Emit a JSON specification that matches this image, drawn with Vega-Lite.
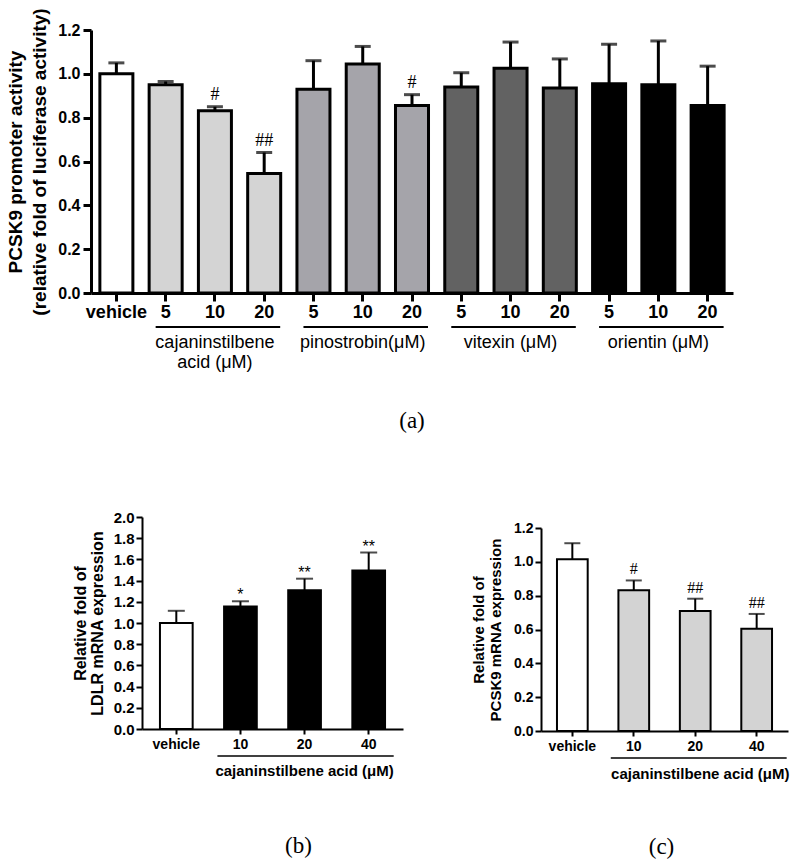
{
  "$schema": "https://vega.github.io/schema/vega-lite/v6.json",
  "background": "white",
  "padding": {"left": 6, "top": 7, "right": 0, "bottom": 0},
  "config": {
    "view": {"stroke": null},
    "font": "Liberation Sans",
    "axis": {"grid": false, "domainColor": "black", "tickColor": "black", "labelColor": "black", "titleColor": "black", "labelFontWeight": "bold", "titleFontWeight": "bold", "labelFont": "Liberation Sans", "titleFont": "Liberation Sans", "labelOverlap": false}
  },
  "spacing": 77,
  "resolve": {"scale": {"fill": "independent"}},
  "vconcat": [
    {
      "width": 708,
      "height": 263,
      "title": {"text": "(a)", "orient": "bottom", "font": "Liberation Serif", "fontSize": 23, "fontWeight": "normal", "color": "black", "offset": 38, "dx": 33},
      "layer": [
        {
          "data": {"name": "a"},
          "mark": {"type": "bar", "stroke": "black", "strokeWidth": 3},
          "encoding": {
            "x": {"field": "id", "type": "nominal", "sort": null,
              "scale": {"domain": ["vehicle", "CSA 5", "CSA 10", "CSA 20", "PIN 5", "PIN 10", "PIN 20", "VIT 5", "VIT 10", "VIT 20", "ORI 5", "ORI 10", "ORI 20"], "range": [66, 708], "paddingInner": 0.33, "paddingOuter": 0.18},
              "axis": {"title": null, "labelAngle": 0, "labelFontSize": 18, "tickSize": 8, "tickWidth": 3, "domainWidth": 3, "labelPadding": 2,
                "labelExpr": "datum.label == 'vehicle' ? 'vehicle' : split(datum.label, ' ')[1]"}},
            "y": {"field": "mean", "type": "quantitative",
              "scale": {"domain": [0, 1.2], "nice": false},
              "axis": {"values": [0, 0.2, 0.4, 0.6, 0.8, 1.0, 1.2], "tickCount": 20, "format": ".1f", "offset": -66, "labelFontSize": 16, "tickSize": 8, "tickWidth": 3, "domainWidth": 3, "labelPadding": 3, "labelOverlap": false,
                "title": ["PCSK9 promoter activity", "(relative fold of luciferase activity)"], "titleFontSize": 19, "titleLineHeight": 24, "titlePadding": 8}},
            "fill": {"field": "grp", "type": "nominal", "legend": null,
              "scale": {"domain": ["vehicle", "cajaninstilbene acid", "pinostrobin", "vitexin", "orientin"], "range": ["#ffffff", "#d4d4d4", "#a5a4aa", "#626262", "#000000"]}}
          }
        },
        {
          "data": {"name": "a"},
          "mark": {"type": "rule", "strokeWidth": 3, "color": "black"},
          "encoding": {
            "x": {"field": "id", "type": "nominal", "sort": null},
            "y": {"field": "mean", "type": "quantitative"},
            "y2": {"field": "hi"}
          }
        },
        {
          "data": {"name": "a"},
          "mark": {"type": "tick", "thickness": 3, "size": 16, "color": "black"},
          "encoding": {
            "x": {"field": "id", "type": "nominal", "sort": null},
            "y": {"field": "hi", "type": "quantitative"}
          }
        },
        {
          "data": {"name": "a"},
          "mark": {"type": "text", "font": "Liberation Serif", "fontSize": 18, "baseline": "bottom", "dy": -3, "color": "black"},
          "encoding": {
            "x": {"field": "id", "type": "nominal", "sort": null},
            "y": {"field": "hi", "type": "quantitative"},
            "text": {"field": "sig"}
          }
        },
        {
          "data": {"name": "agroups"},
          "mark": {"type": "rule", "strokeWidth": 2, "color": "black", "xOffset": -10, "x2Offset": 16, "clip": false},
          "encoding": {
            "x": {"field": "first", "type": "nominal"},
            "x2": {"field": "last"},
            "y": {"value": 297}
          }
        },
        {
          "data": {"name": "agroups"},
          "mark": {"type": "text", "fontSize": 18, "baseline": "top", "align": "center", "lineBreak": "\n", "lineHeight": 20, "color": "black", "clip": false},
          "encoding": {
            "x": {"field": "mid", "type": "nominal"},
            "y": {"value": 304},
            "text": {"field": "label"}
          }
        }
      ]
    },
    {
      "spacing": 46,
      "resolve": {"scale": {"fill": "independent"}},
      "hconcat": [
        {
          "width": 1,
          "height": 1,
          "data": {"values": [{"k": 0}]},
          "mark": {"type": "rect", "opacity": 0},
          "encoding": {}
        },
        {
          "spacing": 68,
          "resolve": {"scale": {"fill": "independent"}},
          "hconcat": [
            {
              "width": 261,
              "height": 212,
              "title": {"text": "(b)", "orient": "bottom", "font": "Liberation Serif", "fontSize": 23, "fontWeight": "normal", "color": "black", "offset": 56, "dx": 26},
              "layer": [
                {
                  "data": {"name": "b"},
                  "mark": {"type": "bar", "stroke": "black", "strokeWidth": 2},
                  "encoding": {
                    "x": {"field": "id", "type": "nominal", "sort": null,
                      "scale": {"domain": ["vehicle", "10", "20", "40"], "paddingInner": 0.49, "paddingOuter": 0.28},
                      "axis": {"title": null, "labelAngle": 0, "labelFontSize": 14, "tickSize": 5, "tickWidth": 2, "domainWidth": 2, "labelPadding": 3}},
                    "y": {"field": "mean", "type": "quantitative",
                      "scale": {"domain": [0, 2.0], "nice": false},
                      "axis": {"values": [0, 0.2, 0.4, 0.6, 0.8, 1.0, 1.2, 1.4, 1.6, 1.8, 2.0], "tickCount": 20, "format": ".1f", "labelFontSize": 15, "tickSize": 6, "tickWidth": 2, "domainWidth": 2, "labelPadding": 2, "labelOverlap": false,
                        "title": ["Relative fold of", "LDLR mRNA expression"], "titleFontSize": 16, "titleLineHeight": 17, "titlePadding": 8}},
                    "fill": {"field": "grp", "type": "nominal", "legend": null,
                      "scale": {"domain": ["vehicle", "cajaninstilbene acid"], "range": ["#ffffff", "#000000"]}}
                  }
                },
                {
                  "data": {"name": "b"},
                  "mark": {"type": "rule", "strokeWidth": 2, "color": "black"},
                  "encoding": {
                    "x": {"field": "id", "type": "nominal", "sort": null},
                    "y": {"field": "mean", "type": "quantitative"},
                    "y2": {"field": "hi"}
                  }
                },
                {
                  "data": {"name": "b"},
                  "mark": {"type": "tick", "thickness": 2, "size": 17, "color": "black"},
                  "encoding": {
                    "x": {"field": "id", "type": "nominal", "sort": null},
                    "y": {"field": "hi", "type": "quantitative"}
                  }
                },
                {
                  "data": {"name": "b"},
                  "mark": {"type": "text", "fontSize": 16, "baseline": "bottom", "dy": 2, "color": "black"},
                  "encoding": {
                    "x": {"field": "id", "type": "nominal", "sort": null},
                    "y": {"field": "hi", "type": "quantitative"},
                    "text": {"field": "sig"}
                  }
                },
                {
                  "data": {"name": "bcgroup"},
                  "mark": {"type": "rule", "strokeWidth": 1.5, "color": "black", "xOffset": -23, "x2Offset": 25, "clip": false},
                  "encoding": {
                    "x": {"field": "first", "type": "nominal"},
                    "x2": {"field": "last"},
                    "y": {"value": 239}
                  }
                },
                {
                  "data": {"name": "bcgroup"},
                  "mark": {"type": "text", "fontSize": 15, "fontWeight": "bold", "baseline": "middle", "align": "center", "color": "black", "clip": false},
                  "encoding": {
                    "x": {"field": "mid", "type": "nominal"},
                    "y": {"value": 254},
                    "text": {"field": "label"}
                  }
                }
              ]
            },
            {
              "width": 247,
              "height": 214,
              "title": {"text": "(c)", "orient": "bottom", "font": "Liberation Serif", "fontSize": 23, "fontWeight": "normal", "color": "black", "offset": 54, "dx": -3},
              "layer": [
                {
                  "data": {"name": "c"},
                  "mark": {"type": "bar", "stroke": "black", "strokeWidth": 2},
                  "encoding": {
                    "x": {"field": "id", "type": "nominal", "sort": null,
                      "scale": {"domain": ["vehicle", "10", "20", "40"], "paddingInner": 0.5, "paddingOuter": 0.26},
                      "axis": {"title": null, "labelAngle": 0, "labelFontSize": 14, "tickSize": 5, "tickWidth": 2, "domainWidth": 2, "labelPadding": 3}},
                    "y": {"field": "mean", "type": "quantitative",
                      "scale": {"domain": [0, 1.2], "nice": false, "range": [214, 11]},
                      "axis": {"values": [0, 0.2, 0.4, 0.6, 0.8, 1.0, 1.2], "tickCount": 20, "format": ".1f", "labelFontSize": 14, "tickSize": 6, "tickWidth": 2, "domainWidth": 2, "labelPadding": 2, "labelOverlap": false,
                        "title": ["Relative fold of", "PCSK9 mRNA expression"], "titleFontSize": 15, "titleLineHeight": 17, "titlePadding": 10}},
                    "fill": {"field": "grp", "type": "nominal", "legend": null,
                      "scale": {"domain": ["vehicle", "cajaninstilbene acid"], "range": ["#ffffff", "#d3d3d3"]}}
                  }
                },
                {
                  "data": {"name": "c"},
                  "mark": {"type": "rule", "strokeWidth": 2, "color": "black"},
                  "encoding": {
                    "x": {"field": "id", "type": "nominal", "sort": null},
                    "y": {"field": "mean", "type": "quantitative"},
                    "y2": {"field": "hi"}
                  }
                },
                {
                  "data": {"name": "c"},
                  "mark": {"type": "tick", "thickness": 2, "size": 16, "color": "black"},
                  "encoding": {
                    "x": {"field": "id", "type": "nominal", "sort": null},
                    "y": {"field": "hi", "type": "quantitative"}
                  }
                },
                {
                  "data": {"name": "c"},
                  "mark": {"type": "text", "font": "Liberation Serif", "fontSize": 16, "baseline": "bottom", "dy": -3, "color": "black"},
                  "encoding": {
                    "x": {"field": "id", "type": "nominal", "sort": null},
                    "y": {"field": "hi", "type": "quantitative"},
                    "text": {"field": "sig"}
                  }
                },
                {
                  "data": {"name": "bcgroup"},
                  "mark": {"type": "rule", "strokeWidth": 1.5, "color": "black", "xOffset": -23, "x2Offset": 30, "clip": false},
                  "encoding": {
                    "x": {"field": "first", "type": "nominal"},
                    "x2": {"field": "last"},
                    "y": {"value": 241}
                  }
                },
                {
                  "data": {"name": "bcgroup"},
                  "mark": {"type": "text", "fontSize": 15, "fontWeight": "bold", "baseline": "middle", "align": "center", "dx": 5, "color": "black", "clip": false},
                  "encoding": {
                    "x": {"field": "mid", "type": "nominal"},
                    "y": {"value": 257},
                    "text": {"field": "label"}
                  }
                }
              ]
            }
          ]
        }
      ]
    }
  ],
  "datasets": {
    "a": [
      {"id": "vehicle", "grp": "vehicle", "mean": 1.0, "hi": 1.05, "sig": ""},
      {"id": "CSA 5", "grp": "cajaninstilbene acid", "mean": 0.95, "hi": 0.965, "sig": ""},
      {"id": "CSA 10", "grp": "cajaninstilbene acid", "mean": 0.832, "hi": 0.85, "sig": "#"},
      {"id": "CSA 20", "grp": "cajaninstilbene acid", "mean": 0.545, "hi": 0.641, "sig": "##"},
      {"id": "PIN 5", "grp": "pinostrobin", "mean": 0.93, "hi": 1.06, "sig": ""},
      {"id": "PIN 10", "grp": "pinostrobin", "mean": 1.045, "hi": 1.125, "sig": ""},
      {"id": "PIN 20", "grp": "pinostrobin", "mean": 0.855, "hi": 0.905, "sig": "#"},
      {"id": "VIT 5", "grp": "vitexin", "mean": 0.94, "hi": 1.005, "sig": ""},
      {"id": "VIT 10", "grp": "vitexin", "mean": 1.025, "hi": 1.145, "sig": ""},
      {"id": "VIT 20", "grp": "vitexin", "mean": 0.935, "hi": 1.068, "sig": ""},
      {"id": "ORI 5", "grp": "orientin", "mean": 0.955, "hi": 1.135, "sig": ""},
      {"id": "ORI 10", "grp": "orientin", "mean": 0.95, "hi": 1.15, "sig": ""},
      {"id": "ORI 20", "grp": "orientin", "mean": 0.855, "hi": 1.035, "sig": ""}
    ],
    "agroups": [
      {"first": "CSA 5", "mid": "CSA 10", "last": "CSA 20", "label": "cajaninstilbene\nacid (μM)"},
      {"first": "PIN 5", "mid": "PIN 10", "last": "PIN 20", "label": "pinostrobin(μM)"},
      {"first": "VIT 5", "mid": "VIT 10", "last": "VIT 20", "label": "vitexin (μM)"},
      {"first": "ORI 5", "mid": "ORI 10", "last": "ORI 20", "label": "orientin (μM)"}
    ],
    "bcgroup": [
      {"first": "10", "last": "40", "mid": "20", "label": "cajaninstilbene acid (μM)"}
    ],
    "b": [
      {"id": "vehicle", "grp": "vehicle", "mean": 1.0, "hi": 1.115, "sig": ""},
      {"id": "10", "grp": "cajaninstilbene acid", "mean": 1.155, "hi": 1.205, "sig": "*"},
      {"id": "20", "grp": "cajaninstilbene acid", "mean": 1.31, "hi": 1.418, "sig": "**"},
      {"id": "40", "grp": "cajaninstilbene acid", "mean": 1.495, "hi": 1.665, "sig": "**"}
    ],
    "c": [
      {"id": "vehicle", "grp": "vehicle", "mean": 1.015, "hi": 1.11, "sig": ""},
      {"id": "10", "grp": "cajaninstilbene acid", "mean": 0.832, "hi": 0.89, "sig": "#"},
      {"id": "20", "grp": "cajaninstilbene acid", "mean": 0.71, "hi": 0.782, "sig": "##"},
      {"id": "40", "grp": "cajaninstilbene acid", "mean": 0.605, "hi": 0.692, "sig": "##"}
    ]
  }
}
